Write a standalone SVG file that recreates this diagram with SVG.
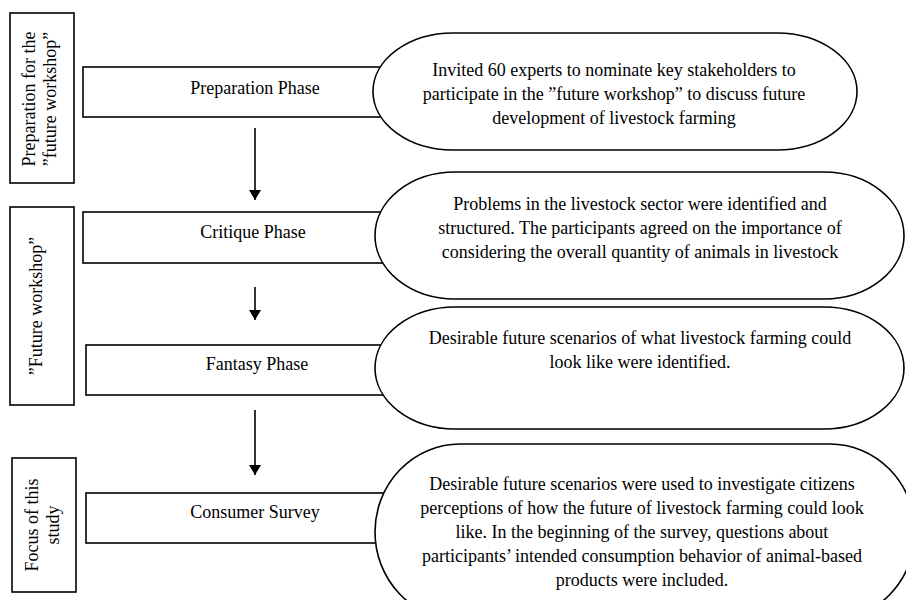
<svg xmlns="http://www.w3.org/2000/svg" width="906" height="600" viewBox="0 0 906 600">
<style>
  .box { fill: #fff; stroke: #000; stroke-width: 1.6; }
  .oval { fill: #fff; stroke: #000; stroke-width: 1.6; }
  .t { font-family: "Liberation Serif", Tinos, "Times New Roman", "DejaVu Serif", serif; font-size: 18px; fill: #000; text-anchor: middle; }
  .conn { stroke: #000; stroke-width: 1.6; fill: none; }
</style>
<defs>
  <marker id="ah" viewBox="0 0 10 12" refX="10" refY="6" markerWidth="10" markerHeight="12" markerUnits="userSpaceOnUse" orient="auto">
    <path d="M0,0 L10,6 L0,12 z" fill="#000"/>
  </marker>
</defs>

<g font-family="Liberation Serif, Tinos, Times New Roman, serif">
<g id="side-prep">
  <rect class="box" x="10" y="13" width="64" height="170"/>
  <text class="t" transform="translate(42,99) rotate(-90)"><tspan x="0" y="-7">Preparation for the</tspan><tspan x="0" y="14">”future workshop”</tspan></text>
</g>
<g id="side-workshop">
  <rect class="box" x="10" y="207" width="64" height="198"/>
  <text class="t" transform="translate(42,306) rotate(-90)"><tspan x="0" y="0">”Future workshop”</tspan></text>
</g>
<g id="side-focus">
  <rect class="box" x="12" y="458" width="64" height="134"/>
  <text class="t" transform="translate(44,525) rotate(-90)"><tspan x="0" y="-6">Focus of this</tspan><tspan x="0" y="15">study</tspan></text>
</g>

<g id="prep-phase">
  <rect class="box" x="83" y="67" width="310" height="50"/>
  <text class="t" x="255" y="94">Preparation Phase</text>
</g>
<g id="critique-phase">
  <rect class="box" x="83" y="212" width="310" height="51"/>
  <text class="t" x="253" y="238">Critique Phase</text>
</g>
<g id="fantasy-phase">
  <rect class="box" x="86" y="345" width="310" height="50"/>
  <text class="t" x="257" y="370">Fantasy Phase</text>
</g>
<g id="consumer-survey">
  <rect class="box" x="86" y="493" width="310" height="50"/>
  <text class="t" x="255" y="518">Consumer Survey</text>
</g>

<g id="desc-prep">
  <rect class="oval" x="373" y="33" width="484" height="117" rx="80" ry="58.5"/>
  <text class="t"><tspan x="614" y="76">Invited 60 experts to nominate key stakeholders to</tspan><tspan x="614" y="100">participate in the ”future workshop” to discuss future</tspan><tspan x="614" y="124">development of livestock farming</tspan></text>
</g>
<g id="desc-critique">
  <rect class="oval" x="375" y="172" width="529" height="127" rx="80" ry="63.5"/>
  <text class="t"><tspan x="640" y="210">Problems in the livestock sector were identified and</tspan><tspan x="640" y="234">structured. The participants agreed on the importance of</tspan><tspan x="640" y="258">considering the overall quantity of animals in livestock</tspan></text>
</g>
<g id="desc-fantasy">
  <rect class="oval" x="375" y="307" width="529" height="122" rx="80" ry="61"/>
  <text class="t"><tspan x="640" y="344">Desirable future scenarios of what livestock farming could</tspan><tspan x="640" y="368">look like were identified.</tspan></text>
</g>
<g id="desc-survey">
  <rect class="oval" x="375" y="444" width="540" height="176" rx="85" ry="88"/>
  <text class="t"><tspan x="642" y="490">Desirable future scenarios were used to investigate citizens</tspan><tspan x="642" y="514">perceptions of how the future of livestock farming could look</tspan><tspan x="642" y="538">like. In the beginning of the survey, questions about</tspan><tspan x="642" y="562">participants’ intended consumption behavior of animal-based</tspan><tspan x="642" y="586">products were included.</tspan></text>
</g>
</g>

<g id="connectors">
  <line class="conn" x1="255" y1="128" x2="255" y2="200" marker-end="url(#ah)"/>
  <line class="conn" x1="255" y1="287" x2="255" y2="320" marker-end="url(#ah)"/>
  <line class="conn" x1="255" y1="410" x2="255" y2="475" marker-end="url(#ah)"/>
</g>
</svg>
